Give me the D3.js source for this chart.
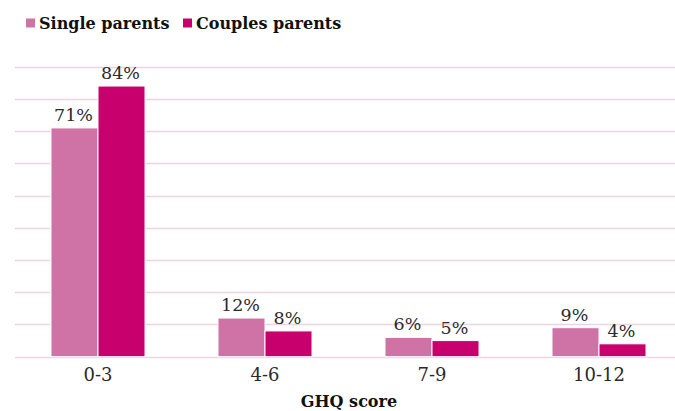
<!DOCTYPE html>
<html>
<head>
<meta charset="utf-8">
<script src="https://cdn.jsdelivr.net/npm/d3@7"></script>
<style>
  body { margin: 0; background: #fff; }
  svg { display: block; }
</style>
</head>
<body>
<div id="chart"></div>
<script>
// GHQ score distribution by family type
const categories = ["0-3", "4-6", "7-9", "10-12"];
const seriesNames = ["Single parents", "Couples parents"];
const singleParents = [71, 12, 6, 9];
const couplesParents = [84, 8, 5, 4];
const yTicks = [0, 10, 20, 30, 40, 50, 60, 70, 80, 90];

const W = 675, H = 411;
const colors = ["#cf73a6", "#c8006e"];
const serif = "'DejaVu Serif', serif";

const svg = d3.select("#chart").append("svg")
    .attr("width", W)
    .attr("height", H);

const x = d3.scaleBand()
    .domain(categories)
    .range([14.5, 682.5])
    .paddingInner(0.437)
    .paddingOuter(0.2185);

const xs = d3.scaleBand()
    .domain(seriesNames)
    .range([0, x.bandwidth()]);

const y = d3.scaleLinear()
    .domain([0, 90])
    .range([356.7, 66.7]);

// gridlines
svg.append("g")
    .selectAll("line")
    .data(yTicks)
    .enter().append("line")
    .attr("x1", 15)
    .attr("x2", W)
    .attr("y1", d => Math.round(y(d)) + 0.5)
    .attr("y2", d => Math.round(y(d)) + 0.5)
    .style("stroke", "#efd3e3")
    .style("stroke-width", "1.5px");

const rows = categories.map((c, i) => ({
    cat: c,
    vals: [singleParents[i], couplesParents[i]]
}));

const groups = svg.append("g")
    .selectAll(".grp")
    .data(rows)
    .enter().append("g")
    .attr("class", "grp")
    .attr("transform", d => `translate(${x(d.cat)},0)`);

groups.selectAll("rect")
    .data(d => d.vals.map((v, j) => ({ name: seriesNames[j], v, j })))
    .enter().append("rect")
    .attr("x", d => xs(d.name))
    .attr("y", d => y(d.v))
    .attr("width", xs.bandwidth())
    .attr("height", d => y(0) - y(d.v))
    .style("fill", d => colors[d.j])
    .style("stroke", "#fff")
    .style("stroke-width", "1px");

groups.selectAll("text")
    .data(d => d.vals.map((v, j) => ({ name: seriesNames[j], v, j })))
    .enter().append("text")
    .attr("x", d => xs(d.name) + xs.bandwidth() / 2 - 1)
    .attr("y", d => y(d.v) - 7)
    .attr("text-anchor", "middle")
    .style("font-family", serif)
    .style("font-size", "17.5px")
    .style("fill", "#2a2a2a")
    .text(d => d.v + "%");

// x axis labels
svg.append("g")
    .selectAll("text")
    .data(categories)
    .enter().append("text")
    .attr("x", d => x(d) + x.bandwidth() / 2)
    .attr("y", 381)
    .attr("text-anchor", "middle")
    .style("font-family", serif)
    .style("font-size", "18px")
    .style("fill", "#2a2a2a")
    .text(d => d);

svg.append("text")
    .attr("x", 349)
    .attr("y", 407)
    .attr("text-anchor", "middle")
    .style("font-family", serif)
    .style("font-size", "16px")
    .style("font-weight", "bold")
    .style("fill", "#111")
    .text("GHQ score");

// legend
const legendX = [26, 183];
const legend = svg.append("g")
    .selectAll("g")
    .data(seriesNames)
    .enter().append("g")
    .attr("transform", (d, i) => `translate(${legendX[i]},0)`);

legend.append("rect")
    .attr("x", 0)
    .attr("y", 18.5)
    .attr("width", 9)
    .attr("height", 9)
    .style("fill", (d, i) => colors[i]);

legend.append("text")
    .attr("x", 13)
    .attr("y", 28.5)
    .style("font-family", serif)
    .style("font-size", "16px")
    .style("font-weight", "bold")
    .style("fill", "#111")
    .text(d => d);
</script>
</body>
</html>
